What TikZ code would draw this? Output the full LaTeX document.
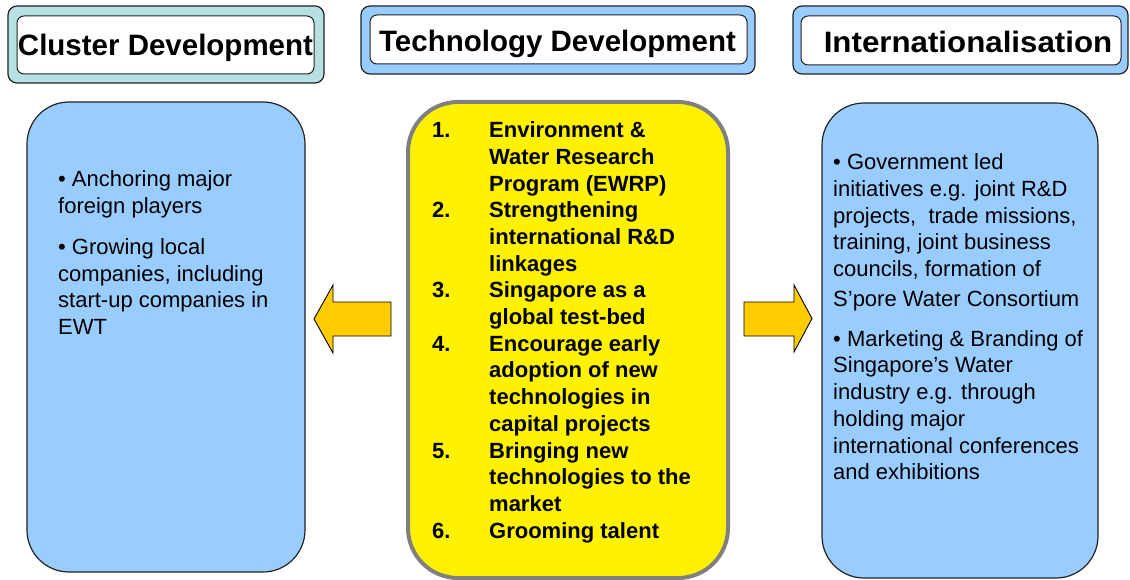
\documentclass[tikz,border=0pt]{standalone}
\usepackage{fontspec}
\setmainfont{Liberation Sans}
\usepackage{graphicx}
\definecolor{hdrteal}{HTML}{B7E0E3}
\definecolor{skyblue}{HTML}{99CCFF}
\definecolor{arrowgold}{HTML}{FFCC00}
\definecolor{midgray}{HTML}{808080}
\definecolor{edgedark}{HTML}{222222}
\begin{document}
\begin{tikzpicture}[x=1pt,y=-1pt,
  hdrouter/.style={draw=edgedark, line width=1.2pt, rounded corners=9pt, rectangle, inner sep=0},
  hdrinner/.style={draw=edgedark, fill=white, line width=1pt, rounded corners=7pt, rectangle, inner sep=0},
  hdrtext/.style={font=\fontsize{29.5}{32}\selectfont\bfseries, inner sep=0, anchor=base},
  sidebox/.style={draw=edgedark, fill=skyblue, line width=1.2pt, rounded corners=42pt, rectangle, inner sep=0},
  midbox/.style={draw=midgray, fill=yellow, line width=4pt, rounded corners=50pt, rectangle, inner sep=0},
  bodytext/.style={font=\fontsize{22}{26.7}\selectfont, align=left, inner sep=0, anchor=north west},
  blockarrow/.style={draw=black, fill=arrowgold, line width=0.9pt, line join=miter}]
\useasboundingbox (0,0) rectangle (1130,580);

% header boxes
\node[hdrouter, fill=hdrteal, minimum width=316pt, minimum height=77pt] (clout) at (166,44.5) {};
\node[hdrinner, minimum width=297pt, minimum height=58pt] (clin) at (165.5,45) {};
\node[hdrtext] (cltxt) at (165.5,55.5) {Cluster Development};

\node[hdrouter, fill=skyblue, minimum width=394pt, minimum height=68pt] (tdout) at (558,40) {};
\node[hdrinner, minimum width=377pt, minimum height=49pt] (tdin) at (558.5,39.5) {};
\node[hdrtext] (tdtxt) at (557.5,51.5) {Technology Development};

\node[hdrouter, fill=skyblue, minimum width=335pt, minimum height=68pt] (inout) at (960.5,40) {};
\node[hdrinner, minimum width=320pt, minimum height=49pt] (inin) at (961,40.5) {};
\node[hdrtext] (intxt) at (968,52.5) {\scalebox{1.06}[1]{Internationalisation}};

% main boxes
\node[sidebox, minimum width=278pt, minimum height=470pt] (leftbox) at (166,337) {};
\node[sidebox, minimum width=276pt, minimum height=475pt] (rightbox) at (960,340.5) {};
\node[midbox, minimum width=320pt, minimum height=476pt] (midbox) at (568,340) {};

% left text
\node[bodytext] (lefttxt) at (58,164.5) {\rule{0pt}{22pt}• Anchoring major\\
foreign players\\[14.3pt]
• Growing local\\
companies, including\\
start-up companies in\\
EWT};

% right text
\node[bodytext] (righttxt) at (833,147.5) {\rule{0pt}{22pt}• Government led\\
initiatives e.g. joint R\&D\\
projects,\ \ trade missions,\\
training, joint business\\
councils, formation of\\[3pt]
S’pore Water Consortium\\[13.3pt]
• Marketing \& Branding of\\
Singapore’s Water\\
industry e.g. through\\
holding major\\
international conferences\\
and exhibitions};

% middle list
\node[inner sep=0, anchor=north west, font=\fontsize{22}{26.7}\selectfont\bfseries] (midtxt) at (432,118.8) {%
\begin{tabular}{@{}p{57pt}@{}l@{}}
1. & Environment \&\\
   & Water Research\\
   & Program (EWRP)\\
2. & Strengthening\\
   & international R\&D\\
   & linkages\\
3. & Singapore as a\\
   & global test-bed\\
4. & Encourage early\\
   & adoption of new\\
   & technologies in\\
   & capital projects\\
5. & Bringing new\\
   & technologies to the\\
   & market\\
6. & Grooming talent
\end{tabular}};

% block arrows
\coordinate (la) at (314,319);
\coordinate (ra) at (812,318.5);
\draw[blockarrow] (la) -- (333,285) -- (333,302) -- (391,302) -- (391,336) -- (333,336) -- (333,353) -- cycle;
\draw[blockarrow] (ra) -- (794,285) -- (794,302) -- (744,302) -- (744,336) -- (794,336) -- (794,352) -- cycle;
\end{tikzpicture}
\end{document}
